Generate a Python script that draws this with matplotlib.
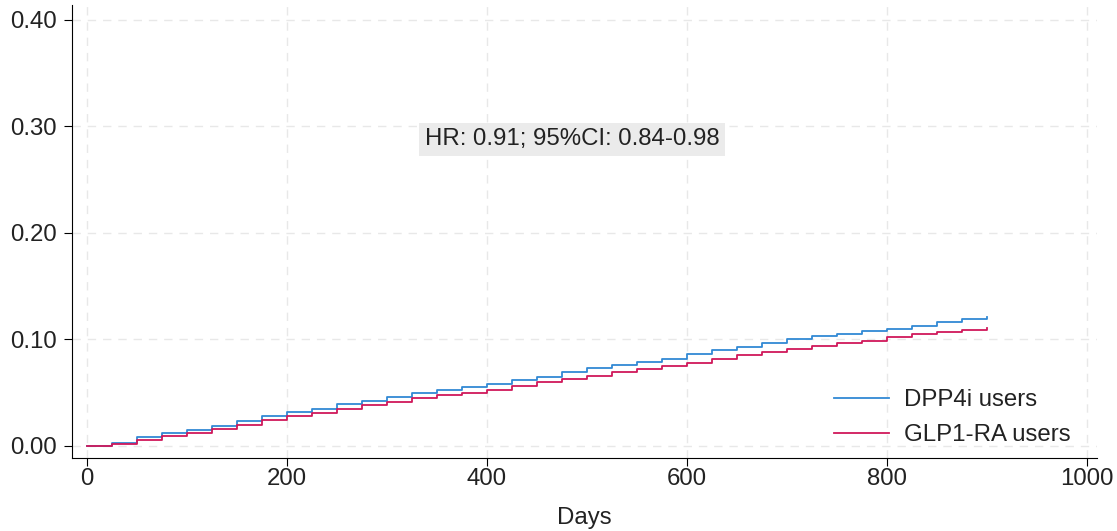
import numpy as np
import matplotlib
matplotlib.use("Agg")
import matplotlib.pyplot as plt

plt.rcParams["font.family"] = ["Liberation Sans", "DejaVu Sans"]

# Cumulative incidence, every 25 days
days = list(range(0, 901, 25))
dpp4i = [0.000, 0.003, 0.008, 0.012, 0.015, 0.019, 0.023, 0.028, 0.032, 0.035,
         0.039, 0.042, 0.046, 0.050, 0.053, 0.055, 0.058, 0.062, 0.065, 0.069,
         0.073, 0.076, 0.079, 0.082, 0.086, 0.090, 0.093, 0.097, 0.100, 0.103,
         0.105, 0.108, 0.110, 0.113, 0.116, 0.119, 0.121]
glp1 = [0.000, 0.002, 0.006, 0.009, 0.012, 0.016, 0.020, 0.024, 0.028, 0.031,
        0.035, 0.038, 0.041, 0.045, 0.048, 0.050, 0.053, 0.056, 0.060, 0.063,
        0.066, 0.069, 0.072, 0.075, 0.078, 0.082, 0.085, 0.088, 0.091, 0.094,
        0.097, 0.099, 0.102, 0.105, 0.107, 0.109, 0.111]
series_labels = ["DPP4i users", "GLP1-RA users"]
hr_text = "HR: 0.91; 95%CI: 0.84-0.98"

xticks = [0, 200, 400, 600, 800, 1000]
yticks = [0.0, 0.1, 0.2, 0.3, 0.4]

fs = 17.3
txt_color = "#222222"

fig = plt.figure(figsize=(11.17, 5.31), dpi=100)
ax = fig.add_axes([0.0645, 0.1375, 0.9175, 0.853])

ax.plot(days, dpp4i, drawstyle="steps-post", color="#3189d4", lw=1.3, label=series_labels[0])
ax.plot(days, glp1, drawstyle="steps-post", color="#d0185a", lw=1.3, label=series_labels[1])

ax.set_xlim(-15, 1010)
ax.set_ylim(-0.0113, 0.414)
ax.set_xticks(xticks)
ax.set_yticks(yticks)
ax.set_yticklabels([f"{v:.2f}" for v in yticks])
ax.tick_params(labelsize=fs, length=6, direction="out", color="black", labelcolor=txt_color)
ax.tick_params(axis="y", pad=5)
ax.tick_params(axis="x", pad=1.5)
ax.grid(True, ls=(0, (6, 5)), color="#e8e8e8", lw=1)
ax.set_axisbelow(True)
for s in ["top", "right"]:
    ax.spines[s].set_visible(False)
ax.set_xlabel("Days", fontsize=fs, labelpad=12, color=txt_color)

ax.text(338, 0.288, hr_text, fontsize=fs, va="center", ha="left", color=txt_color,
        bbox=dict(facecolor="#ebebeb", edgecolor="none", pad=4))

leg = ax.legend(loc="lower right", frameon=False, fontsize=fs, handlelength=2.3,
                handletextpad=0.6, bbox_to_anchor=(0.995, -0.022), labelspacing=0.55)
for t in leg.get_texts():
    t.set_color(txt_color)

fig.savefig("out.png", dpi=100)
